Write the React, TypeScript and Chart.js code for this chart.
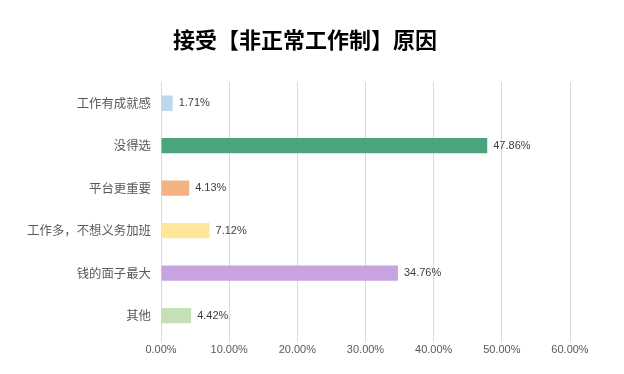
import React, { useEffect, useRef } from "react";
import { Chart, registerables } from "chart.js";

Chart.register(...registerables);

const categories = ["工作有成就感", "没得选", "平台更重要", "工作多，不想义务加班", "钱的面子最大", "其他"];
const values = [1.71, 47.86, 4.13, 7.12, 34.76, 4.42];
const barColors = ["#BDD7EE", "#4AA57E", "#F4B183", "#FFE699", "#C9A3E0", "#C5E0B4"];
const titleText = "接受【非正常工作制】原因";

const valueLabels = {
  id: "valueLabels",
  afterDatasetsDraw(chart: any) {
    const ctx = chart.ctx;
    const meta = chart.getDatasetMeta(0);
    ctx.save();
    ctx.font = "11px 'Liberation Sans', 'Noto Sans CJK SC', sans-serif";
    ctx.fillStyle = "#404040";
    ctx.textAlign = "left";
    ctx.textBaseline = "middle";
    meta.data.forEach((bar: any, i: number) => {
      ctx.fillText(values[i].toFixed(2) + "%", bar.x + 6, bar.y);
    });
    ctx.restore();
  },
};

const pageTitle = {
  id: "pageTitle",
  afterDraw(chart: any) {
    const ctx = chart.ctx;
    ctx.save();
    ctx.font = "bold 22px 'Noto Sans CJK SC', sans-serif";
    ctx.fillStyle = "#000000";
    ctx.textAlign = "center";
    ctx.textBaseline = "middle";
    ctx.fillText(titleText, 305, 40);
    ctx.restore();
  },
};

export default function App() {
  const ref = useRef<HTMLCanvasElement>(null);
  useEffect(() => {
    document.body.style.margin = "0";
    const chart = new Chart(ref.current!, {
      type: "bar",
      data: {
        labels: categories,
        datasets: [
          {
            data: values,
            backgroundColor: barColors,
            barPercentage: 0.36,
            categoryPercentage: 1,
          },
        ],
      },
      options: {
        indexAxis: "y",
        animation: false,
        responsive: false,
        layout: { padding: { left: 0, right: 54, top: 82, bottom: 15 } },
        plugins: {
          legend: { display: false },
          tooltip: { enabled: false },
          title: { display: false },
        },
        scales: {
          x: {
            min: 0,
            max: 60,
            ticks: {
              stepSize: 10,
              color: "#595959",
              font: { family: "'Liberation Sans', sans-serif", size: 11 },
              padding: 2,
              callback: (v: any) => Number(v).toFixed(2) + "%",
            },
            grid: { color: "#d9d9d9", tickLength: 5 },
            border: { display: false },
          },
          y: {
            afterFit: (scale: any) => {
              scale.width = 161;
            },
            ticks: {
              color: "#595959",
              font: { family: "'Noto Sans CJK SC', sans-serif", size: 12.4 },
              padding: 10,
            },
            grid: { display: false, drawTicks: false },
            border: { display: true, color: "#d9d9d9" },
          },
        },
      },
      plugins: [valueLabels, pageTitle],
    });
    return () => chart.destroy();
  }, []);
  return (
    <div style={{ width: 624, height: 374 }}>
      <canvas ref={ref} width={624} height={374} />
    </div>
  );
}
